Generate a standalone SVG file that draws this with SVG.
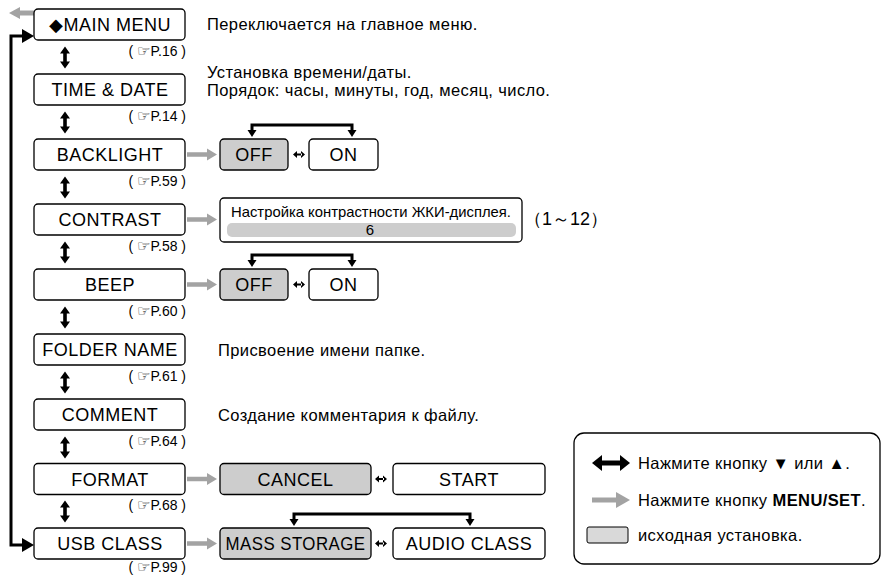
<svg xmlns="http://www.w3.org/2000/svg" width="885" height="577" viewBox="0 0 885 577">
<defs>
<style>
text{font-family:"Liberation Sans",Arial,sans-serif;fill:#000}
.box{fill:#fff;stroke:#000;stroke-width:1.3}
.gbox{fill:#cdcdcd;stroke:#000;stroke-width:1.3}
.lbl{font-size:18px;letter-spacing:0.5px;text-anchor:middle}
.ref{font-size:14px;text-anchor:end}
.hand{font-family:"DejaVu Sans",sans-serif;font-size:15px}
.desc{font-size:16.5px;letter-spacing:0.4px}
.blk{fill:#000}
.gry{fill:#a3a3a3}
.line{fill:none;stroke:#000;stroke-width:3}
</style>
<path id="vdbl" d="M-1.8,-4 h3.6 v8 h-3.6 z M0,-11 L5,-4 L-5,-4 z M0,11 L5,4 L-5,4 z"/>
<path id="garr" d="M0,-2.2 H20 V-6 L30,0 L20,6 V2.2 H0 z"/>
<path id="hdbl" d="M-3,-1 H3 V1 H-3 z M-6,0 L-2,-3.5 V3.5 z M6,0 L2,-3.5 V3.5 z"/>
</defs>

<g id="connectors">
<!-- back to previous (gray arrow, top-left) -->
<path class="gry" d="M35,10.5 H20 V7 L9,13 L20,19 V15.5 H35 z"/>
<!-- loop from USB CLASS back to MAIN MENU -->
<path class="line" d="M24,36 H11 V545 H24"/>
<path class="blk" d="M22,29 L34,36 L22,43 z"/>
<path class="blk" d="M22,538 L34,545 L22,552 z"/>
<!-- vertical double arrows -->
<use href="#vdbl" class="blk" x="65" y="57.5"/>
<use href="#vdbl" class="blk" x="65" y="122.5"/>
<use href="#vdbl" class="blk" x="65" y="187.5"/>
<use href="#vdbl" class="blk" x="65" y="252.5"/>
<use href="#vdbl" class="blk" x="65" y="317.5"/>
<use href="#vdbl" class="blk" x="65" y="382.5"/>
<use href="#vdbl" class="blk" x="65" y="447.5"/>
<use href="#vdbl" class="blk" x="65" y="511.5"/>
<!-- gray MENU/SET arrows -->
<use href="#garr" class="gry" x="187" y="154.5"/>
<use href="#garr" class="gry" x="187" y="219.5"/>
<use href="#garr" class="gry" x="187" y="284.5"/>
<use href="#garr" class="gry" x="187" y="479"/>
<use href="#garr" class="gry" x="187" y="543.5"/>
<!-- small horizontal double arrows between options -->
<use href="#hdbl" class="blk" x="299" y="154.5"/>
<use href="#hdbl" class="blk" x="299" y="284.5"/>
<use href="#hdbl" class="blk" x="381" y="479"/>
<use href="#hdbl" class="blk" x="381" y="543.5"/>
<!-- brackets over option pairs -->
<path class="line" d="M252,131 V125 H352 V131" stroke-width="2.6"/>
<path class="blk" d="M247.5,130 H256.5 L252,137 z M347.5,130 H356.5 L352,137 z"/>
<path class="line" d="M252,261 V255 H352 V261" stroke-width="2.6"/>
<path class="blk" d="M247.5,260 H256.5 L252,267 z M347.5,260 H356.5 L352,267 z"/>
<path class="line" d="M294,520 V514 H470 V520" stroke-width="2.6"/>
<path class="blk" d="M289.5,519 H298.5 L294,526 z M465.5,519 H474.5 L470,526 z"/>
</g>

<g id="main-menu">
<rect class="box" x="34" y="9" width="151" height="31" rx="4"/>
<text class="lbl" x="110" y="31">◆MAIN MENU</text>
<text class="ref" x="186" y="56">( <tspan class="hand">☞</tspan>P.16 )</text>
<text class="desc" x="207" y="30">Переключается на главное меню.</text>
</g>
<g id="time-date">
<rect class="box" x="34" y="74" width="151" height="31" rx="4"/>
<text class="lbl" x="110" y="96">TIME &amp; DATE</text>
<text class="ref" x="186" y="121">( <tspan class="hand">☞</tspan>P.14 )</text>
<text class="desc" x="207" y="78">Установка времени/даты.</text>
<text class="desc" x="207" y="96">Порядок: часы, минуты, год, месяц, число.</text>
</g>
<g id="backlight">
<rect class="box" x="34" y="139" width="151" height="31" rx="4"/>
<text class="lbl" x="110" y="161">BACKLIGHT</text>
<text class="ref" x="186" y="186">( <tspan class="hand">☞</tspan>P.59 )</text>
</g>
<g id="backlight-off">
<rect class="gbox" x="220" y="139" width="68" height="31" rx="4"/>
<text class="lbl" x="254" y="161">OFF</text>
</g>
<g id="backlight-on">
<rect class="box" x="309" y="139" width="69" height="31" rx="4"/>
<text class="lbl" x="343.5" y="161">ON</text>
</g>
<g id="contrast">
<rect class="box" x="34" y="204" width="151" height="31" rx="4"/>
<text class="lbl" x="110" y="226">CONTRAST</text>
<text class="ref" x="186" y="251">( <tspan class="hand">☞</tspan>P.58 )</text>
</g>
<g id="contrast-setting">
<rect class="box" x="220" y="198" width="302" height="44" rx="4"/>
<text x="231" y="217" font-size="14.5" textLength="280" lengthAdjust="spacingAndGlyphs">Настройка контрастности ЖКИ-дисплея.</text>
<rect x="227" y="223" width="289" height="14" rx="5" fill="#cdcdcd"/>
<text x="370" y="235" font-size="15" text-anchor="middle">6</text>
<text x="524" y="225" font-size="18" font-family="'Liberation Sans','Noto Sans CJK JP',sans-serif">（1～12）</text>
</g>
<g id="beep">
<rect class="box" x="34" y="269" width="151" height="31" rx="4"/>
<text class="lbl" x="110" y="291">BEEP</text>
<text class="ref" x="186" y="316">( <tspan class="hand">☞</tspan>P.60 )</text>
</g>
<g id="beep-off">
<rect class="gbox" x="220" y="269" width="68" height="31" rx="4"/>
<text class="lbl" x="254" y="291">OFF</text>
</g>
<g id="beep-on">
<rect class="box" x="309" y="269" width="69" height="31" rx="4"/>
<text class="lbl" x="343.5" y="291">ON</text>
</g>
<g id="folder-name">
<rect class="box" x="34" y="334" width="151" height="31" rx="4"/>
<text class="lbl" x="110" y="356">FOLDER NAME</text>
<text class="ref" x="186" y="381">( <tspan class="hand">☞</tspan>P.61 )</text>
<text class="desc" x="218" y="356">Присвоение имени папке.</text>
</g>
<g id="comment">
<rect class="box" x="34" y="399" width="151" height="31" rx="4"/>
<text class="lbl" x="110" y="421">COMMENT</text>
<text class="ref" x="186" y="446">( <tspan class="hand">☞</tspan>P.64 )</text>
<text class="desc" x="218" y="421">Создание комментария к файлу.</text>
</g>
<g id="format">
<rect class="box" x="34" y="463.5" width="151" height="31" rx="4"/>
<text class="lbl" x="110" y="485.5">FORMAT</text>
<text class="ref" x="186" y="510">( <tspan class="hand">☞</tspan>P.68 )</text>
</g>
<g id="format-cancel">
<rect class="gbox" x="220" y="463.5" width="151" height="31" rx="4"/>
<text class="lbl" x="295.5" y="485.5">CANCEL</text>
</g>
<g id="format-start">
<rect class="box" x="393" y="463.5" width="152" height="31" rx="4"/>
<text class="lbl" x="469" y="485.5">START</text>
</g>
<g id="usb-class">
<rect class="box" x="34" y="528" width="151" height="31" rx="4"/>
<text class="lbl" x="110" y="550">USB CLASS</text>
<text class="ref" x="186" y="572">( <tspan class="hand">☞</tspan>P.99 )</text>
</g>
<g id="usb-mass-storage">
<rect class="gbox" x="220" y="528" width="151" height="31" rx="4"/>
<text class="lbl" x="295.5" y="550" letter-spacing="0" textLength="140" lengthAdjust="spacingAndGlyphs">MASS STORAGE</text>
</g>
<g id="usb-audio-class">
<rect class="box" x="393" y="528" width="152" height="31" rx="4"/>
<text class="lbl" x="469" y="550" letter-spacing="0.2">AUDIO CLASS</text>
</g>

<g id="legend">
<rect x="574" y="433" width="306" height="131" rx="10" fill="#fff" stroke="#000" stroke-width="1.3"/>
<path class="blk" d="M592,463 L602,455 V460.5 H620 V455 L630,463 L620,471 V465.5 H602 V471 z"/>
<text class="desc" x="638" y="468.5">Нажмите кнопку ▼ или ▲.</text>
<path class="gry" d="M592,497.5 H616 V492 L630,500 L616,508 V502.5 H592 z"/>
<text class="desc" x="638" y="505.5">Нажмите кнопку <tspan font-weight="bold">MENU/SET</tspan>.</text>
<rect x="587" y="527" width="41" height="16" rx="2" fill="#d9d9d9" stroke="#000" stroke-width="1"/>
<text class="desc" x="638" y="541">исходная установка.</text>
</g>
</svg>
